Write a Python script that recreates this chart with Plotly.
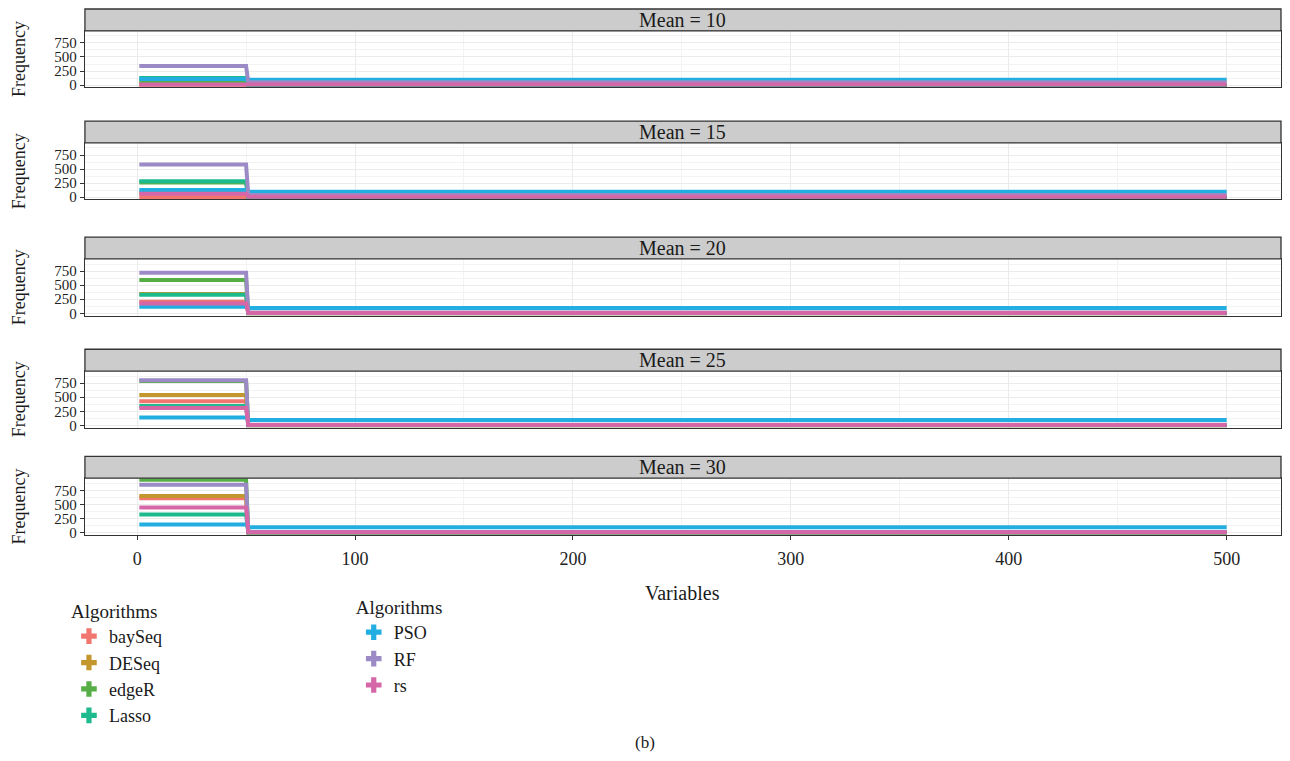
import plotly.graph_objects as go

# ---------------- data ----------------
algorithms = ["baySeq", "DESeq", "edgeR", "Lasso", "PSO", "RF", "rs"]
means = [10, 15, 20, 25, 30]
n_variables = 500
n_de = 50  # first 50 variables are differentially expressed

# frequency level over variables 1-50, per panel (Mean = 10..30)
de_baySeq = [5, 5, 205, 430, 610]
de_DESeq = [20, 80, 340, 540, 650]
de_edgeR = [75, 260, 590, 790, 935]
de_Lasso = [125, 285, 330, 345, 320]
de_PSO = [110, 130, 115, 140, 140]
de_RF = [340, 580, 720, 800, 850]
de_rs = [10, 60, 175, 310, 445]

# frequency level over variables 51-500, per panel
non_baySeq = [0, 0, 0, 0, 0]
non_DESeq = [0, 0, 0, 0, 0]
non_edgeR = [0, 0, 0, 0, 0]
non_Lasso = [0, 0, 0, 0, 0]
non_PSO = [95, 95, 95, 95, 95]
non_RF = [50, 40, 15, 10, 10]
non_rs = [10, 10, 5, 5, 5]

x_ticks = [0, 100, 200, 300, 400, 500]
y_ticks = [0, 250, 500, 750]

de_levels = {"baySeq": de_baySeq, "DESeq": de_DESeq, "edgeR": de_edgeR, "Lasso": de_Lasso,
             "PSO": de_PSO, "RF": de_RF, "rs": de_rs}
non_levels = {"baySeq": non_baySeq, "DESeq": non_DESeq, "edgeR": non_edgeR, "Lasso": non_Lasso,
              "PSO": non_PSO, "RF": non_RF, "rs": non_rs}

colors = {"baySeq": "#F0766F", "DESeq": "#C4962E", "edgeR": "#57AE47", "Lasso": "#1DBA8E",
          "PSO": "#22AEE0", "RF": "#9B8AC6", "rs": "#D567A9"}

# ---------------- layout helpers ----------------
OFF = 8                 # page body margin
W, H = 1274, 745        # figure size (fits inside the window with the margin)
FONT = "Liberation Serif"


def px(p):
    return (p - OFF) / W


def py(p):
    return 1 - (p - OFF) / H


panels = [(31, 88), (144, 201), (261, 318), (374, 431), (482, 539)]
strip_h = 22
x_left, x_right = 85, 1282
variables = list(range(1, n_variables + 1))

fig = go.Figure()
layout = {}
shapes = []
annotations = []

for i, m in enumerate(means):
    ax = "" if i == 0 else str(i + 1)
    for a in algorithms:
        y = [de_levels[a][i]] * n_de + [non_levels[a][i]] * (n_variables - n_de)
        fig.add_trace(go.Scatter(
            x=variables, y=y, mode="lines",
            line=dict(color=colors[a], width=4, simplify=False),
            xaxis="x" + ax, yaxis="y" + ax, showlegend=False, hoverinfo="skip"))
    top, bot = panels[i]
    last = (i == len(means) - 1)
    layout["xaxis" + ax] = dict(
        domain=[px(x_left), px(x_right)], range=[-23.95, 524.95], anchor="y" + ax,
        tickvals=x_ticks, showticklabels=last, ticks="outside" if last else "",
        ticklen=4, tickcolor="#333333", ticklabelstandoff=4,
        tickfont=dict(family=FONT, size=18, color="#222222"),
        showgrid=True, gridcolor="#EBEBEB", gridwidth=1,
        minor=dict(tickvals=[50, 150, 250, 350, 450], showgrid=True,
                   gridcolor="#F3F3F3", gridwidth=0.6, ticks=""),
        showline=True, mirror=True, linecolor="#333333", linewidth=1.3, zeroline=False)
    layout["yaxis" + ax] = dict(
        domain=[py(bot), py(top)], range=[-40, 965], anchor="x" + ax,
        tickvals=y_ticks, ticks="outside", ticklen=4, tickcolor="#333333",
        tickfont=dict(family=FONT, size=15, color="#222222"),
        showgrid=True, gridcolor="#EBEBEB", gridwidth=1,
        minor=dict(tickvals=[125, 375, 625, 875], showgrid=True,
                   gridcolor="#F3F3F3", gridwidth=0.6, ticks=""),
        showline=True, mirror=True, linecolor="#333333", linewidth=1.3, zeroline=False)
    # strip
    shapes.append(dict(type="rect", xref="paper", yref="paper",
                       x0=px(x_left), x1=px(x_right), y0=py(top), y1=py(top - strip_h),
                       fillcolor="#CCCCCC", line=dict(color="#333333", width=1.3), layer="above"))
    annotations.append(dict(text=f"Mean = {m}", xref="paper", yref="paper",
                            x=px((x_left + x_right) / 2), y=py(top - strip_h / 2),
                            showarrow=False, xanchor="center", yanchor="middle",
                            font=dict(family=FONT, size=20, color="#1a1a1a")))
    annotations.append(dict(text="Frequency", xref="paper", yref="paper",
                            x=px(19), y=py((top + bot) / 2), textangle=-90,
                            showarrow=False, xanchor="center", yanchor="middle",
                            font=dict(family=FONT, size=18, color="#1a1a1a")))

annotations.append(dict(text="Variables", xref="paper", yref="paper",
                        x=px((x_left + x_right) / 2), y=py(598), showarrow=False,
                        xanchor="center", yanchor="middle",
                        font=dict(family=FONT, size=20, color="#1a1a1a")))
annotations.append(dict(text="(b)", xref="paper", yref="paper",
                        x=px(645), y=py(748), showarrow=False,
                        xanchor="center", yanchor="middle",
                        font=dict(family=FONT, size=17, color="#1a1a1a")))

# legend entries
for j, a in enumerate(algorithms):
    fig.add_trace(go.Scatter(
        x=[None], y=[None], mode="markers", name=a,
        marker=dict(symbol="cross", size=13, color=colors[a], line=dict(width=0)),
        legend="legend" if j < 4 else "legend2", hoverinfo="skip"))

legend_common = dict(
    xanchor="left", yanchor="top", bgcolor="rgba(0,0,0,0)",
    font=dict(family=FONT, size=18, color="#1a1a1a"),
    title=dict(text="Algorithms", font=dict(family=FONT, size=19, color="#1a1a1a")),
    itemsizing="trace", tracegroupgap=0, itemclick=False)

fig.update_layout(
    width=W, height=H, margin=dict(l=0, r=0, t=0, b=0),
    paper_bgcolor="white", plot_bgcolor="white",
    shapes=shapes, annotations=annotations,
    legend=dict(x=px(69), y=py(598), **legend_common),
    legend2=dict(x=px(354), y=py(594), **legend_common),
    **layout)

fig.write_html("out.html")
